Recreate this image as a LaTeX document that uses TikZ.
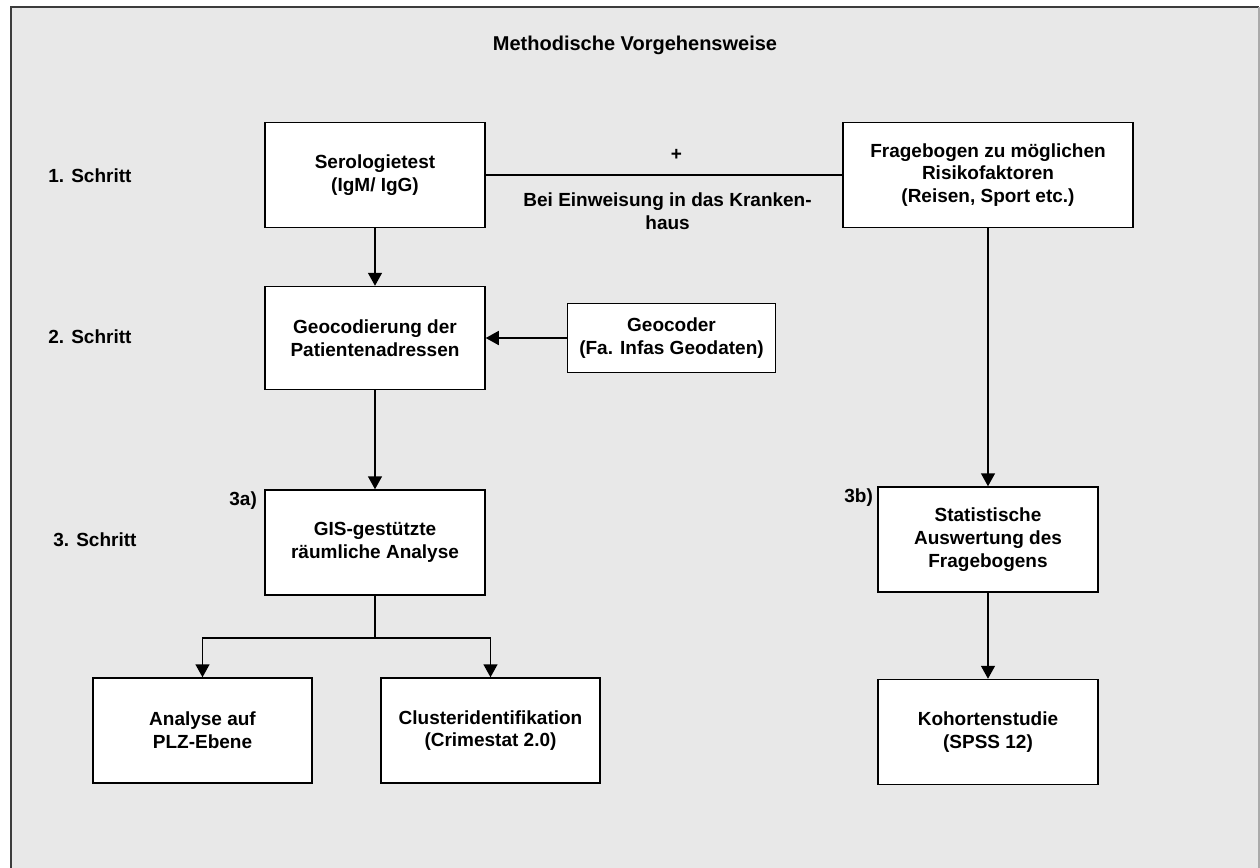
\documentclass[tikz,border=0pt]{standalone}
\usepackage{fontspec}
\setmainfont{Liberation Sans}
\usepackage{tikz}
\usetikzlibrary{arrows.meta,positioning}
\definecolor{panelgray}{RGB}{232,232,232}
\definecolor{framegray}{RGB}{60,60,60}
\definecolor{edgegray}{RGB}{170,170,170}
\tikzset{
  stepbox/.style={draw=black, fill=white, line width=0.75pt,
    minimum width=110pt, minimum height=52.5pt, align=center, inner sep=2pt,
    font=\fontsize{9.5}{11.4}\selectfont\bfseries},
  lbl/.style={inner sep=0pt, align=center, font=\fontsize{9.5}{11.4}\selectfont\bfseries},
  flow/.style={-{Triangle[length=6.5pt,width=7pt]}, line width=0.75pt},
  link/.style={line width=0.75pt}
}

\begin{document}
\begin{tikzpicture}[x=0.5pt, y=-0.5pt, node distance=28.75pt]
  \useasboundingbox (0,0) rectangle (1260,868);
  % panel
  \fill[panelgray] (11,7) rectangle (1260,868);
  \draw[framegray, line width=1pt] (11,868) -- (11,7) -- (1259,7);
  \draw[edgegray, line width=1pt] (1259,7) -- (1259,868);
  \node[lbl, font=\fontsize{10}{12}\selectfont\bfseries] (title) at (635,45) {Methodische Vorgehensweise};

  % step labels
  \node[lbl, anchor=west] (s1) at (48,176) {1. Schritt};
  \node[lbl, anchor=west] (s2) at (48,337) {2. Schritt};
  \node[lbl, anchor=west] (s3) at (53,540) {3. Schritt};

  % left column
  \node[stepbox] (sero) at (375,175) {Serologietest\\(IgM/ IgG)};
  \node[stepbox, below=of sero, minimum height=51.5pt] (geocod)
    {Geocodierung der\\Patientenadressen};
  \node[stepbox, right=40.5pt of geocod, minimum width=104pt, minimum height=34.5pt] (geocoder)
    {Geocoder\\(Fa. Infas Geodaten)};
  \node[stepbox, below=49.5pt of geocod] (gis) {GIS-gestützte\\räumliche Analyse};
  \node[lbl, anchor=north east] (l3a) at ([xshift=-3.5pt,yshift=-1pt]gis.north west) {3a)};
  \node[stepbox, minimum width=109.5pt] (plz) at (202.5,730.5) {Analyse auf\\PLZ-Ebene};
  \node[stepbox, minimum width=109.5pt] (cluster) at (490.5,730.5)
    {Clusteridentifikation\\(Crimestat 2.0)};
  \coordinate[below=21pt of gis.south] (split);

  \draw[flow] (sero) -- (geocod);
  \draw[flow] (geocoder) -- (geocod);
  \draw[flow] (geocod) -- (gis);
  \draw[link] (gis) -- (split);
  \draw[flow] (split) -| (plz);
  \draw[flow] (split) -| (cluster);

  % right column
  \node[stepbox, minimum width=145pt] (frage) at (988,175)
    {Fragebogen zu möglichen\\Risikofaktoren\\(Reisen, Sport etc.)};
  \node[stepbox] (stat) at (988,539.5) {Statistische\\Auswertung des\\Fragebogens};
  \node[lbl, anchor=north east] (l3b) at ([xshift=-2pt,yshift=-1pt]stat.north west) {3b)};
  \node[stepbox, below=43pt of stat] (kohort) {Kohortenstudie\\(SPSS 12)};

  \draw[link] (sero) -- (frage)
    node[lbl, pos=0.535, above=7pt] (plus) {+}
    node[lbl, pos=0.51, below=8.5pt] (admit) {Bei Einweisung in das Kranken-\\haus};
  \draw[flow] (frage) -- (stat);
  \draw[flow] (stat) -- (kohort);
\end{tikzpicture}
\end{document}
